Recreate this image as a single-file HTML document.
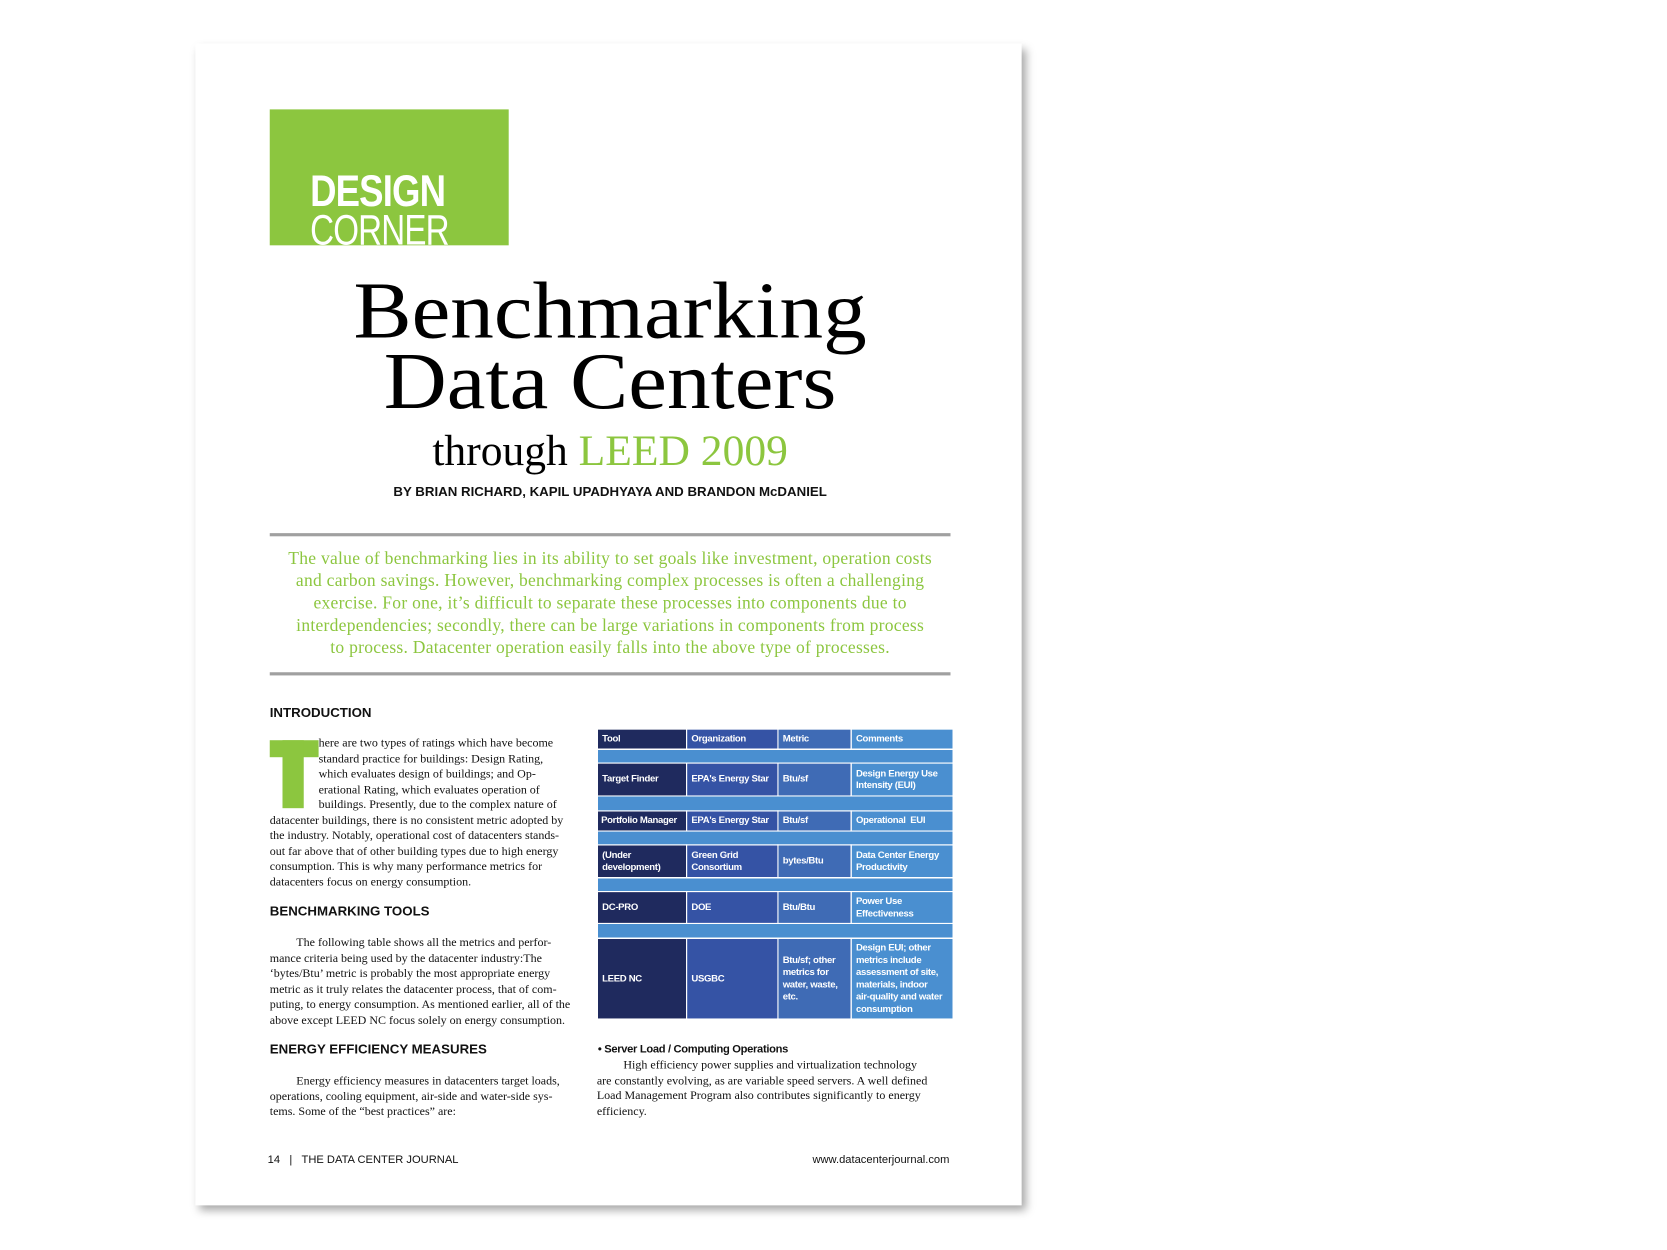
<!DOCTYPE html>
<html><head><meta charset="utf-8"><style>
html,body{margin:0;padding:0;background:#fff;}
body{width:1667px;height:1250px;overflow:hidden;position:relative;}
#w{position:absolute;left:0;top:0;width:1570px;height:1177px;transform:scale(1.062);transform-origin:0 0;}
.a{position:absolute;}
.page{left:184px;top:41px;width:778px;height:1094px;background:#fff;box-shadow:4px 5px 8px rgba(0,0,0,0.35);}
.sans{font-family:"Liberation Sans",sans-serif;}
.serif{font-family:"Liberation Serif",serif;}
.body{font-family:"Liberation Serif",serif;font-size:11.3px;line-height:14.5px;color:#111;}
.h{font-family:"Liberation Sans",sans-serif;font-weight:bold;font-size:12.5px;color:#111;}
table{border-collapse:collapse;font-family:"Liberation Sans",sans-serif;font-weight:bold;font-size:9px;letter-spacing:-0.3px;color:#fff;table-layout:fixed;}
td{border:1px solid #fff;padding:0 4px;line-height:11.5px;vertical-align:middle;white-space:nowrap;overflow:hidden;}
.c1{background:#1f2a5e}.c2{background:#3553a5}.c3{background:#3f6bb5}.c4{background:#4a8fd0}
.sp td{background:#4a8fd0;}
</style></head><body><div id="w">
<div class="a page"></div>
<div class="a" style="left:254px;top:103px;width:225px;height:128px;background:#8cc63f;overflow:hidden;">
 <div class="a sans" style="left:38px;top:53px;color:#fff;font-weight:bold;font-size:42px;letter-spacing:-1px;transform:scaleX(0.82);transform-origin:0 0;">DESIGN</div>
 <div class="a sans" style="left:38px;top:92px;color:#fff;font-size:40px;letter-spacing:-1px;transform:scaleX(0.78);transform-origin:0 0;">CORNER</div>
</div>
<div class="a serif" style="left:254px;top:260px;width:641px;text-align:center;font-size:76px;line-height:66px;color:#000;transform:scaleX(1.08);transform-origin:321px 0;">Benchmarking<br>Data Centers</div>
<div class="a serif" style="left:254px;top:400px;width:641px;text-align:center;font-size:41px;color:#000;">through <span style="color:#8cc63f">LEED 2009</span></div>
<div class="a sans" style="left:254px;top:456px;width:641px;text-align:center;font-weight:bold;font-size:12.5px;color:#111;">BY BRIAN RICHARD, KAPIL UPADHYAYA AND BRANDON McDANIEL</div>
<div class="a" style="left:254px;top:502px;width:641px;height:3px;background:#a0a0a0;"></div>
<div class="a" style="left:254px;top:633px;width:641px;height:3px;background:#a0a0a0;"></div>
<div class="a serif" style="left:244px;top:515px;width:661px;text-align:center;font-size:16.5px;line-height:21px;letter-spacing:0.25px;color:#8cc63f;">The value of benchmarking lies in its ability to set goals like investment, operation costs<br>and carbon savings. However, benchmarking complex processes is often a challenging<br>exercise. For one, it’s difficult to separate these processes into components due to<br>interdependencies; secondly, there can be large variations in components from process<br>to process. Datacenter operation easily falls into the above type of processes.</div>
<div class="a h" style="left:254px;top:664px;">INTRODUCTION</div>
<div class="a sans" style="left:254px;top:697px;width:46px;height:64px;">
 <div class="a" style="left:0;top:0;width:46px;height:16px;background:#8cc63f"></div>
 <div class="a" style="left:12px;top:0;width:20px;height:64px;background:#8cc63f"></div>
</div>
<div class="a body" style="left:254px;top:693px;width:292px;">
<div style="padding-left:46px">here are two types of ratings which have become<br>standard practice for buildings: Design Rating,<br>which evaluates design of buildings; and Op-<br>erational Rating, which evaluates operation of<br>buildings. Presently, due to the complex nature of</div>
datacenter buildings, there is no consistent metric adopted by<br>the industry. Notably, operational cost of datacenters stands-<br>out far above that of other building types due to high energy<br>consumption. This is why many performance metrics for<br>datacenters focus on energy consumption.</div>
<div class="a h" style="left:254px;top:851px;">BENCHMARKING TOOLS</div>
<div class="a body" style="left:254px;top:881px;width:292px;"><span style="padding-left:25px"></span>The following table shows all the metrics and perfor-<br>mance criteria being used by the datacenter industry:The<br>‘bytes/Btu’ metric is probably the most appropriate energy<br>metric as it truly relates the datacenter process, that of com-<br>puting, to energy consumption. As mentioned earlier, all of the<br>above except LEED NC focus solely on energy consumption.</div>
<div class="a h" style="left:254px;top:981px;">ENERGY EFFICIENCY MEASURES</div>
<div class="a body" style="left:254px;top:1011px;width:292px;"><span style="padding-left:25px"></span>Energy efficiency measures in datacenters target loads,<br>operations, cooling equipment, air-side and water-side sys-<br>tems. Some of the “best practices” are:</div>
<table class="a" style="left:562px;top:686px;width:335px;">
<colgroup><col style="width:84px"><col style="width:86px"><col style="width:69px"><col style="width:96px"></colgroup>
<tr style="height:19px"><td class="c1">Tool</td><td class="c2">Organization</td><td class="c3">Metric</td><td class="c4">Comments</td></tr>
<tr class="sp" style="height:13px"><td colspan="4"></td></tr>
<tr style="height:31px"><td class="c1">Target Finder</td><td class="c2">EPA's Energy Star</td><td class="c3">Btu/sf</td><td class="c4">Design Energy Use<br>Intensity (EUI)</td></tr>
<tr class="sp" style="height:14px"><td colspan="4"></td></tr>
<tr style="height:19px"><td class="c1" style="padding:0 3px;">Portfolio Manager</td><td class="c2">EPA's Energy Star</td><td class="c3">Btu/sf</td><td class="c4">Operational&nbsp; EUI</td></tr>
<tr class="sp" style="height:13px"><td colspan="4"></td></tr>
<tr style="height:31px"><td class="c1">(Under<br>development)</td><td class="c2">Green Grid<br>Consortium</td><td class="c3">bytes/Btu</td><td class="c4">Data Center Energy<br>Productivity</td></tr>
<tr class="sp" style="height:13px"><td colspan="4"></td></tr>
<tr style="height:30px"><td class="c1">DC-PRO</td><td class="c2">DOE</td><td class="c3">Btu/Btu</td><td class="c4">Power Use<br>Effectiveness</td></tr>
<tr class="sp" style="height:14px"><td colspan="4"></td></tr>
<tr style="height:76px"><td class="c1">LEED NC</td><td class="c2">USGBC</td><td class="c3">Btu/sf; other<br>metrics for<br>water, waste,<br>etc.</td><td class="c4">Design EUI; other<br>metrics include<br>assessment of site,<br>materials, indoor<br>air-quality and water<br>consumption</td></tr>
</table>
<div class="a sans" style="left:563px;top:982px;font-weight:bold;font-size:10.5px;letter-spacing:-0.3px;color:#111;">• Server Load / Computing Operations</div>
<div class="a body" style="left:562px;top:996px;width:335px;"><span style="padding-left:25px"></span>High efficiency power supplies and virtualization technology<br>are constantly evolving, as are variable speed servers. A well defined<br>Load Management Program also contributes significantly to energy<br>efficiency.</div>
<div class="a sans" style="left:252px;top:1086px;font-size:10.5px;color:#111;">14 &nbsp;&nbsp;| &nbsp;&nbsp;THE DATA CENTER JOURNAL</div>
<div class="a sans" style="left:700px;top:1086px;width:194px;text-align:right;font-size:10.5px;color:#111;">www.datacenterjournal.com</div>
</div></body></html>
